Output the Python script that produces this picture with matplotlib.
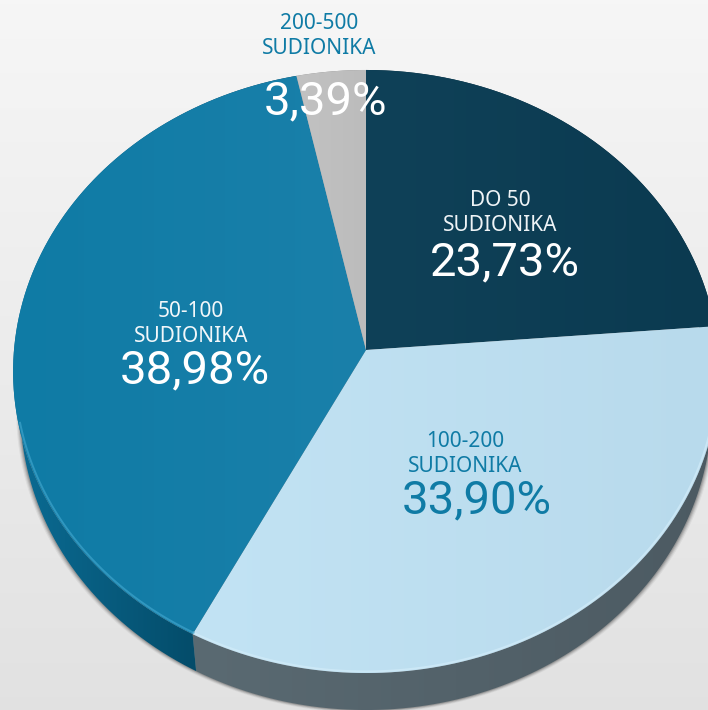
import numpy as np
import matplotlib
matplotlib.use("Agg")
import matplotlib.pyplot as plt
from matplotlib.patches import PathPatch
from matplotlib.path import Path

# ---- data ----
categories = ["DO 50\nSUDIONIKA", "100-200\nSUDIONIKA", "50-100\nSUDIONIKA", "200-500\nSUDIONIKA"]
values = [23.73, 33.90, 38.98, 3.39]
value_labels = ["23,73%", "33,90%", "38,98%", "3,39%"]

# ---- styles ----
top_left = ["#0f4158", "#c2e3f4", "#0f7ba5", "#c2c2c2"]
top_right = ["#0b3a50", "#b8daec", "#1a80aa", "#bcbcbc"]
side_left = ["#0a2f40", "#5a6a72", "#0b6c94", "#888888"]
side_right = ["#0a2f40", "#4c5a62", "#003a52", "#888888"]
cat_colors = ["#eef3f6", "#0f7ba5", "#f2f7fa", "#0f7ba5"]
pct_colors = ["white", "#0f7ba5", "white", "white"]
label_xy = [(500, 213), (465, 454), (191, 324), (319, 36)]
pct_xy = [(505, 262), (477, 500), (195, 370), (326, 101)]

CX, CY, RX, K, P, DEPTH, RIM_SCALE = 366, 350, 352, 300, 0.0713, 37, 0.98
W, H = 708, 710


def project(turn):
    a = 2 * np.pi * np.asarray(turn)
    X, Y = np.sin(a), np.cos(a)
    d = 1 + P * Y
    return CX + RX * X / d, CY - K * Y / d


def grad_image(ax, c1, c2, path, z):
    rgb1 = np.array(matplotlib.colors.to_rgb(c1))
    rgb2 = np.array(matplotlib.colors.to_rgb(c2))
    t = np.linspace(0, 1, 256)[:, None]
    img = (rgb1 * (1 - t) + rgb2 * t)[None, :, :]
    v = path.vertices
    ext = (v[:, 0].min(), v[:, 0].max(), v[:, 1].max(), v[:, 1].min())
    im = ax.imshow(img, extent=ext, aspect="auto", zorder=z, interpolation="bilinear")
    im.set_clip_path(PathPatch(path, transform=ax.transData))
    return im


fig = plt.figure(figsize=(W / 100, H / 100), dpi=100)
ax = fig.add_axes([0, 0, 1, 1])

# background gradient
t = np.linspace(0, 1, 256)[:, None]
rgb = np.array([0.965, 0.965, 0.965]) * (1 - t) + np.array([0.885, 0.885, 0.885]) * t
ax.imshow(rgb[:, None, :], extent=(0, W, H, 0), aspect="auto", zorder=0)

ax.set_xlim(0, W)
ax.set_ylim(H, 0)
ax.axis("off")


def rim_xy(x, y):
    return CX + (x - CX) * RIM_SCALE, y + DEPTH


# soft shadow round the rim
tt = np.linspace(0, 1, 720)
ox, oy = project(tt)
sx, sy = rim_xy(ox, oy)
for grow, alpha in zip([4, 3, 2, 1], [0.05, 0.08, 0.11, 0.15]):
    ax.fill(CX + (sx - CX) * (1 + grow / RX), sy + grow * 0.7, color="black",
            alpha=alpha, lw=0, zorder=1)

edges = np.concatenate([[0], np.cumsum(values)]) / np.sum(values)

# rim (extruded side)
for i in range(len(values)):
    arc = np.linspace(edges[i], edges[i + 1], 200)
    x, y = project(arc)
    rx, ry = rim_xy(x, y)
    pts = np.vstack([np.c_[x, y], np.c_[rx[::-1], ry[::-1]], [[x[0], y[0]]]])
    grad_image(ax, side_left[i], side_right[i], Path(pts), 2)

# top faces
for i in range(len(values)):
    arc = np.linspace(edges[i], edges[i + 1], 200)
    x, y = project(arc)
    pts = np.vstack([[[CX, CY]], np.c_[x, y], [[CX, CY]]])
    grad_image(ax, top_left[i], top_right[i], Path(pts), 3)

# light bevel on the lower edge of the face
for i in [1, 2]:
    arc = np.linspace(edges[i], edges[i + 1], 200)
    x, y = project(arc)
    mask = y > CY + 70
    ax.plot(CX + (x[mask] - CX) * 0.995, CY + (y[mask] - CY) * 0.995,
            color="#d2ecf9" if i == 1 else "#3ea3cb", lw=1.4, alpha=0.7, zorder=4)

# text
for i in range(len(values)):
    ax.text(*label_xy[i], categories[i], ha="center", va="center", fontsize=15, color=cat_colors[i],
            family=["Noto Sans", "DejaVu Sans"], linespacing=1.27, zorder=6)
    ax.text(*pct_xy[i], value_labels[i], ha="center", va="center", fontsize=34, color=pct_colors[i],
            family=["Roboto", "DejaVu Sans"], zorder=6)

fig.savefig("out.png", dpi=100)
